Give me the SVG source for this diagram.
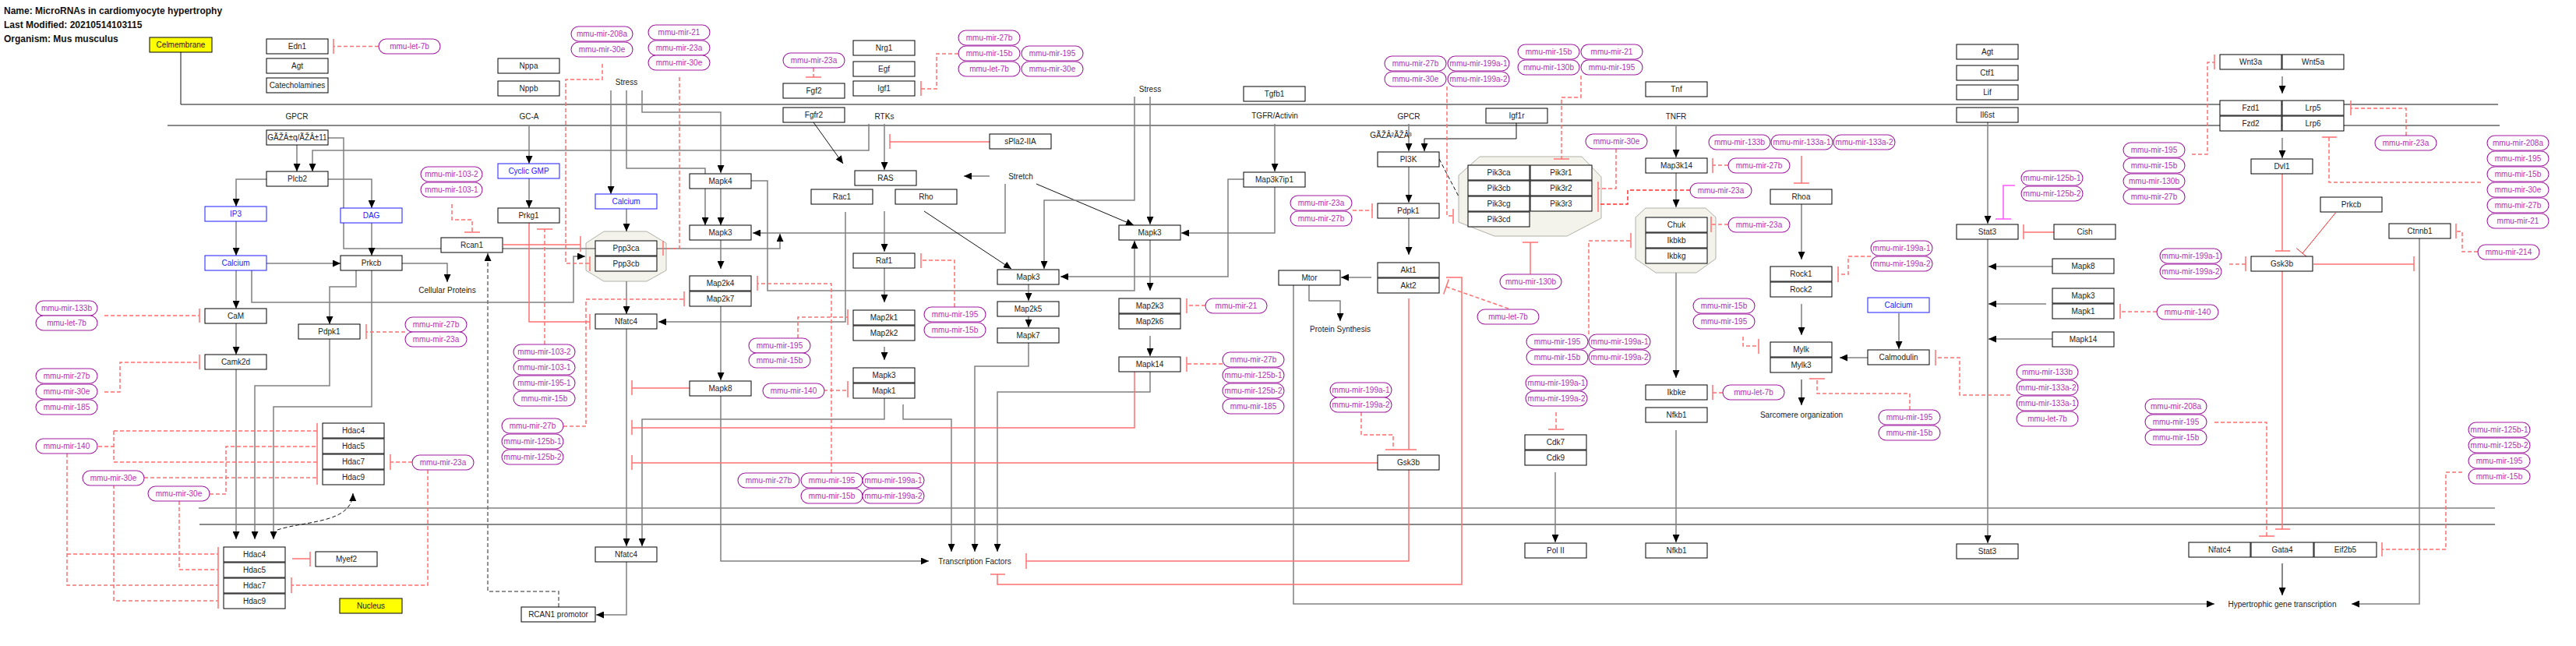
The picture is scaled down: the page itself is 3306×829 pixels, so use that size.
<svg xmlns="http://www.w3.org/2000/svg" width="3306" height="829" viewBox="0 0 3306 829">
<defs>
<style>
text{font-family:"Liberation Sans",Arial,sans-serif;font-size:10px;fill:#222;text-anchor:middle}
.h{text-anchor:start;font-weight:bold;font-size:12px;fill:#111}
.b rect{fill:#fff;stroke:#000;stroke-width:1}
.bl rect{fill:#fff;stroke:#1a1aff;stroke-width:1}
.bl text{fill:#2020ff}
.y rect{fill:#ffff00;stroke:#000;stroke-width:1}
.m rect{fill:#fff;stroke:#a01ca0;stroke-width:1.1}
.m text{fill:#b030b4}
.c{fill:none;stroke:#808080;stroke-width:1.5}
.cd{fill:none;stroke:#707070;stroke-width:1.5;stroke-dasharray:5 3}
.k{fill:none;stroke:#111;stroke-width:1}
.kd{fill:none;stroke:#111;stroke-width:1;stroke-dasharray:5 3}
.i{fill:none;stroke:#ff7070;stroke-width:1.5}
.d{fill:none;stroke:#ff7070;stroke-width:1.5;stroke-dasharray:5 3}
.bar{fill:none;stroke:#ff7070;stroke-width:1.5}
.oct{fill:#f3f3ec;stroke:#b0b0a8;stroke-width:1}
</style>
<marker id="ar" viewBox="0 0 10 9" markerWidth="10" markerHeight="9" refX="10" refY="4.5" orient="auto" markerUnits="userSpaceOnUse"><path d="M0,0L10,4.5L0,9z" fill="#000"/></marker>
</defs>
<rect width="3306" height="829" fill="#fff"/>
<text class="h" x="5" y="18">Name: MicroRNAs in cardiomyocyte hypertrophy</text>
<text class="h" x="5" y="36">Last Modified: 20210514103115</text>
<text class="h" x="5" y="54">Organism: Mus musculus</text>

<g id="cplx-ppp3"><polygon class="oct" points="775,297 830,297 855,312 855,347 830,361 775,361 752,347 752,312"/></g>
<g id="cplx-pik"><polygon class="oct" points="1899,201 2030,201 2055,227 2055,280 2011,303 1918,303 1872,285 1872,225"/></g>
<g id="cplx-ikk"><polygon class="oct" points="2112,267 2189,267 2202,279 2202,332 2177,350 2125,350 2099,332 2099,279"/></g>

<g id="connectors">
<path class="k" d="M232 67V134H3206"/>
<path class="k" d="M215 161H3208"/>
<path class="c" d="M255 652H3202"/>
<path class="k" d="M256 673H3202"/>
<path class="c" marker-end="url(#ar)" d="M381 186V220"/>
<path class="c" marker-end="url(#ar)" d="M1115 159V193H401V220"/>
<path class="c" marker-end="url(#ar)" d="M421 177H441V319H1001V300"/>
<path class="c" marker-end="url(#ar)" d="M342 230H303V265"/>
<path class="c" marker-end="url(#ar)" d="M421 230H477V267"/>
<path class="c" marker-end="url(#ar)" d="M303 284V328"/>
<path class="c" marker-end="url(#ar)" d="M477 286V328"/>
<path class="c" marker-end="url(#ar)" d="M342 338H437"/>
<path class="c" marker-end="url(#ar)" d="M516 338H574V362"/>
<path class="c" marker-end="url(#ar)" d="M323 347V388H736V329H751"/>
<path class="c" marker-end="url(#ar)" d="M303 347V396"/>
<path class="c" marker-end="url(#ar)" d="M457 347V368H423V416"/>
<path class="c" marker-end="url(#ar)" d="M477 347V522H351V692"/>
<path class="c" marker-end="url(#ar)" d="M423 435V495H327V692"/>
<path class="c" marker-end="url(#ar)" d="M303 414V455"/>
<path class="c" marker-end="url(#ar)" d="M303 474V692"/>
<path class="kd" marker-end="url(#ar)" d="M356 680C392 668 452 672 453 633"/>
<path class="c" marker-end="url(#ar)" d="M679 161V210"/>
<path class="c" marker-end="url(#ar)" d="M679 229V267"/>
<path class="c" marker-end="url(#ar)" d="M784 116V249"/>
<path class="c" marker-end="url(#ar)" d="M804 116V216H905V289"/>
<path class="c" marker-end="url(#ar)" d="M824 116V144H925V222"/>
<path class="c" marker-end="url(#ar)" d="M925 242V289"/>
<path class="c" marker-end="url(#ar)" d="M804 268V297"/>
<path class="c" marker-end="url(#ar)" d="M804 361V403"/>
<path class="c" marker-end="url(#ar)" d="M964 232H985V373H1456V309"/>
<path class="c" marker-end="url(#ar)" d="M925 308V345"/>
<path class="c" marker-end="url(#ar)" d="M925 393V488"/>
<path class="c" marker-end="url(#ar)" d="M925 507V720H1192"/>
<path class="c" marker-end="url(#ar)" d="M804 422V701"/>
<path class="c" marker-end="url(#ar)" d="M1135 510V538H824V701"/>
<path class="c" marker-end="url(#ar)" d="M804 721V789H765"/>
<path class="cd" marker-end="url(#ar)" d="M717 779V759H626V325"/>
<path class="c" marker-end="url(#ar)" d="M1290 236V299H966"/>
<path class="c" marker-end="url(#ar)" d="M1085 272V413H845"/>
<path class="k" marker-end="url(#ar)" d="M1044 157L1082 210"/>
<path class="c" marker-end="url(#ar)" d="M1135 159V218"/>
<path class="c" marker-end="url(#ar)" d="M1270 226H1237"/>
<path class="k" marker-end="url(#ar)" d="M1330 236L1455 289"/>
<path class="k" marker-end="url(#ar)" d="M1186 271L1298 345"/>
<path class="c" marker-end="url(#ar)" d="M1135 271V323"/>
<path class="c" marker-end="url(#ar)" d="M1135 344V388"/>
<path class="c" marker-end="url(#ar)" d="M1476 124V288"/>
<path class="c" marker-end="url(#ar)" d="M1456 124V257H1340V345"/>
<path class="c" marker-end="url(#ar)" d="M1636 159V220"/>
<path class="c" marker-end="url(#ar)" d="M1596 230H1576V355H1361"/>
<path class="c" marker-end="url(#ar)" d="M1636 240V299H1516"/>
<path class="c" marker-end="url(#ar)" d="M1476 308V373"/>
<path class="c" marker-end="url(#ar)" d="M1476 431V457"/>
<path class="c" marker-end="url(#ar)" d="M1320 364V386"/>
<path class="c" marker-end="url(#ar)" d="M1320 406V420"/>
<path class="c" marker-end="url(#ar)" d="M1135 445V462"/>
<path class="c" marker-end="url(#ar)" d="M1159 519V538H1221V708"/>
<path class="c" marker-end="url(#ar)" d="M1320 440V470H1251V708"/>
<path class="c" marker-end="url(#ar)" d="M1476 477V503H1280V708"/>
<path class="c" marker-end="url(#ar)" d="M1660 365V775H2842"/>
<path class="c" marker-end="url(#ar)" d="M1760 356H1721"/>
<path class="c" marker-end="url(#ar)" d="M1680 365V386H1720V412"/>
<path class="c" marker-end="url(#ar)" d="M1808 159V194"/>
<path class="k" marker-end="url(#ar)" d="M1946 158V178H1828V194"/>
<path class="c" marker-end="url(#ar)" d="M1808 214V260"/>
<path class="c" marker-end="url(#ar)" d="M1808 280V327"/>
<path class="kd" d="M1847 204L1872 252"/>
<path class="c" marker-end="url(#ar)" d="M2151 161V202"/>
<path class="c" marker-end="url(#ar)" d="M2151 222V266"/>
<path class="c" marker-end="url(#ar)" d="M2151 350V485"/>
<path class="c" marker-end="url(#ar)" d="M2151 552V696"/>
<path class="c" marker-end="url(#ar)" d="M1996 606V696"/>
<path class="c" marker-end="url(#ar)" d="M2551 157V287"/>
<path class="c" marker-end="url(#ar)" d="M2551 307V697"/>
<path class="c" marker-end="url(#ar)" d="M2634 342H2552"/>
<path class="c" marker-end="url(#ar)" d="M2626 390H2552"/>
<path class="c" marker-end="url(#ar)" d="M2634 435H2552"/>
<path class="c" marker-end="url(#ar)" d="M2312 262V333"/>
<path class="c" marker-end="url(#ar)" d="M2312 390V430"/>
<path class="c" marker-end="url(#ar)" d="M2437 402V448"/>
<path class="c" marker-end="url(#ar)" d="M2397 459H2361"/>
<path class="k" marker-end="url(#ar)" d="M2312 487V520"/>
<path class="c" marker-end="url(#ar)" d="M2929 98V120"/>
<path class="c" marker-end="url(#ar)" d="M2929 177V203"/>
<path class="c" marker-end="url(#ar)" d="M3105 306V775H3018"/>
<path class="k" marker-end="url(#ar)" d="M2929 723V764"/>

<path class="i" d="M646 314H745"/><path class="bar" d="M745 303V323"/>
<path class="i" d="M679 286V413H757"/><path class="bar" d="M757 403V423"/>
<path class="i" d="M885 498H811"/><path class="bar" d="M811 488V507"/>
<path class="i" d="M1456 477V549H811"/><path class="bar" d="M811 539V558"/>
<path class="i" d="M1768 594H811"/><path class="bar" d="M811 584V603"/>
<path class="i" d="M1270 182H1142"/><path class="bar" d="M1142 172V191"/>
<path class="i" d="M1808 603V720H1317"/><path class="bar" d="M1317 710V730"/>
<path class="i" d="M1856 356H1876V750H1280V737"/><path class="bar" d="M1271 737H1290"/>
<path class="i" d="M1808 383V577"/><path class="bar" d="M1798 577H1818"/>
<path class="i" d="M1964 352V311"/><path class="bar" d="M1954 311H1974"/>
<path class="i" d="M375 717H398"/><path class="bar" d="M398 708V727"/>
<path class="i" d="M2312 200V235"/><path class="bar" d="M2302 235H2322"/>
<path class="i" d="M2636 298H2597"/><path class="bar" d="M2597 288V307"/>
<path class="i" style="stroke:#ff55ff" d="M2586 238H2571V281"/><path class="bar" style="stroke:#ff55ff" d="M2561 281H2581"/>
<path class="i" d="M2929 223V322"/><path class="bar" d="M2920 322H2939"/>
<path class="i" style="stroke:#ff2020;stroke-width:1" d="M2997.5 273L2955 325"/><path class="bar" style="stroke:#ff2020;stroke-width:1" d="M2947.3 318.7L2962.7 331.3"/>
<path class="i" d="M2969 339H3098"/><path class="bar" d="M3098 329V348"/>
<path class="i" d="M2929 348V679"/><path class="bar" d="M2920 679H2939"/>

<path class="d" d="M486 59.5H428"/><path class="bar" d="M428 50V69"/>
<path class="d" d="M134 405H256"/><path class="bar" d="M256 396V414"/>
<path class="d" d="M134 503H154V465H256"/><path class="bar" d="M256 455V474"/>
<path class="d" d="M520 426H470"/><path class="bar" d="M470 416V435"/>
<path class="d" d="M126 573H146M146 553V593M146 553H407M146 593H407"/><path class="bar" d="M407 543V622"/>
<path class="d" d="M86 582V751H280M86 711H280"/><path class="bar" d="M280 702V781"/>
<path class="d" d="M185 613H407M146 622V771H280"/>
<path class="d" d="M269 634H290V573H407M230 643V731H280"/>
<path class="d" d="M529 593H501"/><path class="bar" d="M501 583V603"/>
<path class="d" d="M549 603V751H374"/><path class="bar" d="M374 741V761"/>
<path class="d" d="M773 82V102H726V338H757"/><path class="bar" d="M757 329V348"/>
<path class="d" d="M872 99V319H851"/><path class="bar" d="M851 309V328"/>
<path class="d" d="M580 262V282H606V298"/><path class="bar" d="M596 298H616"/>
<path class="d" d="M699 442V294"/><path class="bar" d="M689 294H709"/>
<path class="d" d="M723 547H752V384H878"/><path class="bar" d="M878 374V393"/>
<path class="d" d="M1024 434V407H1088"/><path class="bar" d="M1088 397V417"/>
<path class="d" d="M1057 501H1088"/><path class="bar" d="M1088 489V510"/>
<path class="d" d="M1067 607V364H972"/><path class="bar" d="M972 354V373"/>
<path class="d" d="M1044 87V99"/><path class="bar" d="M1034 99H1054"/>
<path class="d" d="M1230 69H1202V114H1182"/><path class="bar" d="M1182 104V123"/>
<path class="d" d="M1225 394V334H1182"/><path class="bar" d="M1182 325V344"/>
<path class="d" d="M1547 392H1523"/><path class="bar" d="M1523 383V402"/>
<path class="d" d="M1569 467H1523"/><path class="bar" d="M1523 458V477"/>
<path class="d" d="M1736 270H1761"/><path class="bar" d="M1761 261V280"/>
<path class="d" d="M1857 111V277H1865"/><path class="bar" d="M1865 268V287"/>
<path class="d" d="M2029 97V125H2004V204"/><path class="bar" d="M1994 204H2014"/>
<path class="d" d="M2074 191V242H2051"/><path class="bar" d="M2051 233V272"/>
<path class="d" style="stroke:#ff3030" d="M2169 244H2089V262H2051"/>
<path class="d" d="M1936 396L1856 368"/><path class="bar" d="M1859.3 358.6L1852.7 377.4"/>
<path class="d" d="M1747 529V558H1788V577"/><path class="bar" d="M1778 577H1798"/>
<path class="d" d="M2218 212H2198"/><path class="bar" d="M2198 203V222"/>
<path class="d" d="M2218 288H2196"/><path class="bar" d="M2196 278V298"/>
<path class="d" d="M2039 429V309H2093"/><path class="bar" d="M2093 299V318"/>
<path class="d" d="M1997 529V551"/><path class="bar" d="M1987 551H2007"/>
<path class="d" d="M2211 504H2198"/><path class="bar" d="M2198 494V513"/>
<path class="d" d="M2237 432V444H2257"/><path class="bar" d="M2257 435V454"/>
<path class="d" d="M2401 329H2372V352H2359"/><path class="bar" d="M2359 342V362"/>
<path class="d" d="M2451 526V505H2332V486"/><path class="bar" d="M2322 486H2342"/>
<path class="d" d="M2580 507H2515V459H2484"/><path class="bar" d="M2484 449V469"/>
<path class="d" d="M2768 400H2721"/><path class="bar" d="M2721 390V409"/>
<path class="d" d="M2813 198H2833V80H2842"/><path class="bar" d="M2842 70V89"/>
<path class="d" d="M3088 174V139H3017"/><path class="bar" d="M3017 129V148"/>
<path class="d" d="M3184 234H2989V176"/><path class="bar" d="M2980 176H2999"/>
<path class="d" d="M3180 323H3160V297H3152"/><path class="bar" d="M3152 287V306"/>
<path class="d" d="M2861 339H2882"/><path class="bar" d="M2882 329V348"/>
<path class="d" d="M2842 542H2909V688"/><path class="bar" d="M2899 688H2919"/>
<path class="d" d="M3160 606H3139V705H3057"/><path class="bar" d="M3057 696V714"/>
</g>

<g id="labels">
<text x="381" y="152.5">GPCR</text>
<text x="679" y="152.5">GC-A</text>
<text x="1135" y="152.5">RTKs</text>
<text x="1636" y="151.5">TGFR/Activin</text>
<text x="1808" y="152.5">GPCR</text>
<text x="2151" y="152.5">TNFR</text>
<text x="804" y="108.5">Stress</text>
<text x="1476" y="117.5">Stress</text>
<text x="1310" y="229.5">Stretch</text>
<text x="574" y="375.5">Cellular Proteins</text>
<text x="1720" y="425.5">Protein Synthesis</text>
<text x="1251" y="723.5">Transcription Factors</text>
<text x="2312" y="535.5">Sarcomere organization</text>
<text x="2929" y="778.5">Hypertrophic gene transcription</text>
<text x="1785" y="176.5">GÃŽÂ²ÃŽÂ³</text>
</g>

<g id="n-celm" class="y"><rect x="192" y="48" width="80" height="19"/><text x="232" y="61">Celmembrane</text></g>
<g id="n-nucleus" class="y"><rect x="436" y="768" width="80" height="19"/><text x="476" y="781">Nucleus</text></g>
<g id="n-edn1" class="b"><rect x="342" y="50" width="79" height="19"/><text x="381.5" y="63">Edn1</text></g>
<g id="n-agt1" class="b"><rect x="342" y="75" width="79" height="19"/><text x="381.5" y="88">Agt</text></g>
<g id="n-catech" class="b"><rect x="342" y="100" width="79" height="19"/><text x="381.5" y="113">Catecholamines</text></g>
<g id="n-gaq" class="b"><rect x="342" y="167" width="79" height="19"/><text x="381.5" y="180">GÃŽÂ±q/ÃŽÂ±11</text></g>
<g id="n-plcb2" class="b"><rect x="342" y="220" width="79" height="19"/><text x="381.5" y="233">Plcb2</text></g>
<g id="n-ip3" class="bl"><rect x="263" y="265" width="79" height="19"/><text x="302.5" y="278">IP3</text></g>
<g id="n-dag" class="bl"><rect x="437" y="267" width="79" height="19"/><text x="476.5" y="280">DAG</text></g>
<g id="n-calcium1" class="bl"><rect x="263" y="328" width="79" height="19"/><text x="302.5" y="341">Calcium</text></g>
<g id="n-prkcb1" class="b"><rect x="437" y="328" width="79" height="19"/><text x="476.5" y="341">Prkcb</text></g>
<g id="n-cam" class="b"><rect x="263" y="396" width="79" height="19"/><text x="302.5" y="409">CaM</text></g>
<g id="n-pdpk1a" class="b"><rect x="383" y="416" width="79" height="19"/><text x="422.5" y="429">Pdpk1</text></g>
<g id="n-camk2d" class="b"><rect x="263" y="455" width="79" height="19"/><text x="302.5" y="468">Camk2d</text></g>
<g id="n-hdac4a" class="b"><rect x="414" y="543" width="79" height="19"/><text x="453.5" y="556">Hdac4</text></g>
<g id="n-hdac5a" class="b"><rect x="414" y="563" width="79" height="19"/><text x="453.5" y="576">Hdac5</text></g>
<g id="n-hdac7a" class="b"><rect x="414" y="583" width="79" height="19"/><text x="453.5" y="596">Hdac7</text></g>
<g id="n-hdac9a" class="b"><rect x="414" y="603" width="79" height="19"/><text x="453.5" y="616">Hdac9</text></g>
<g id="n-hdac4b" class="b"><rect x="287" y="702" width="79" height="19"/><text x="326.5" y="715">Hdac4</text></g>
<g id="n-hdac5b" class="b"><rect x="287" y="722" width="79" height="19"/><text x="326.5" y="735">Hdac5</text></g>
<g id="n-hdac7b" class="b"><rect x="287" y="742" width="79" height="19"/><text x="326.5" y="755">Hdac7</text></g>
<g id="n-hdac9b" class="b"><rect x="287" y="762" width="79" height="19"/><text x="326.5" y="775">Hdac9</text></g>
<g id="n-myef2" class="b"><rect x="405" y="708" width="79" height="19"/><text x="444.5" y="721">Myef2</text></g>
<g id="n-nppa" class="b"><rect x="639" y="75" width="79" height="19"/><text x="678.5" y="88">Nppa</text></g>
<g id="n-nppb" class="b"><rect x="639" y="104" width="79" height="19"/><text x="678.5" y="117">Nppb</text></g>
<g id="n-cgmp" class="bl"><rect x="639" y="210" width="79" height="19"/><text x="678.5" y="223">Cyclic GMP</text></g>
<g id="n-prkg1" class="b"><rect x="639" y="267" width="79" height="19"/><text x="678.5" y="280">Prkg1</text></g>
<g id="n-rcan1" class="b"><rect x="566" y="305" width="79" height="19"/><text x="605.5" y="318">Rcan1</text></g>
<g id="n-calcium2" class="bl"><rect x="764" y="249" width="79" height="19"/><text x="803.5" y="262">Calcium</text></g>
<g id="n-ppp3ca" class="b"><rect x="764" y="309" width="79" height="19"/><text x="803.5" y="322">Ppp3ca</text></g>
<g id="n-ppp3cb" class="b"><rect x="764" y="329" width="79" height="19"/><text x="803.5" y="342">Ppp3cb</text></g>
<g id="n-nfatc4a" class="b"><rect x="764" y="403" width="79" height="19"/><text x="803.5" y="416">Nfatc4</text></g>
<g id="n-nfatc4b" class="b"><rect x="764" y="702" width="79" height="19"/><text x="803.5" y="715">Nfatc4</text></g>
<g id="n-rcan1p" class="b"><rect x="669" y="779" width="95" height="19"/><text x="716.5" y="792">RCAN1 promotor</text></g>
<g id="n-mapk4" class="b"><rect x="885" y="223" width="79" height="19"/><text x="924.5" y="236">Mapk4</text></g>
<g id="n-mapk3a" class="b"><rect x="885" y="289" width="79" height="19"/><text x="924.5" y="302">Mapk3</text></g>
<g id="n-map2k4" class="b"><rect x="885" y="354" width="79" height="19"/><text x="924.5" y="367">Map2k4</text></g>
<g id="n-map2k7" class="b"><rect x="885" y="374" width="79" height="19"/><text x="924.5" y="387">Map2k7</text></g>
<g id="n-mapk8a" class="b"><rect x="885" y="489" width="79" height="19"/><text x="924.5" y="502">Mapk8</text></g>
<g id="n-fgf2" class="b"><rect x="1005" y="107" width="79" height="19"/><text x="1044.5" y="120">Fgf2</text></g>
<g id="n-fgfr2" class="b"><rect x="1005" y="138" width="79" height="19"/><text x="1044.5" y="151">Fgfr2</text></g>
<g id="n-nrg1" class="b"><rect x="1095" y="52" width="79" height="19"/><text x="1134.5" y="65">Nrg1</text></g>
<g id="n-egf" class="b"><rect x="1095" y="79" width="79" height="19"/><text x="1134.5" y="92">Egf</text></g>
<g id="n-igf1" class="b"><rect x="1095" y="104" width="79" height="19"/><text x="1134.5" y="117">Igf1</text></g>
<g id="n-ras" class="b"><rect x="1097" y="219" width="79" height="19"/><text x="1136.5" y="232">RAS</text></g>
<g id="n-spla2" class="b"><rect x="1270" y="172" width="79" height="19"/><text x="1309.5" y="185">sPla2-IIA</text></g>
<g id="n-rac1" class="b"><rect x="1041" y="243" width="79" height="19"/><text x="1080.5" y="256">Rac1</text></g>
<g id="n-rho" class="b"><rect x="1149" y="243" width="79" height="19"/><text x="1188.5" y="256">Rho</text></g>
<g id="n-raf1" class="b"><rect x="1095" y="325" width="79" height="19"/><text x="1134.5" y="338">Raf1</text></g>
<g id="n-map2k1" class="b"><rect x="1095" y="398" width="79" height="19"/><text x="1134.5" y="411">Map2k1</text></g>
<g id="n-map2k2" class="b"><rect x="1095" y="418" width="79" height="19"/><text x="1134.5" y="431">Map2k2</text></g>
<g id="n-mapk3b" class="b"><rect x="1095" y="472" width="79" height="19"/><text x="1134.5" y="485">Mapk3</text></g>
<g id="n-mapk1a" class="b"><rect x="1095" y="492" width="79" height="19"/><text x="1134.5" y="505">Mapk1</text></g>
<g id="n-mapk3d" class="b"><rect x="1280" y="346" width="79" height="19"/><text x="1319.5" y="359">Mapk3</text></g>
<g id="n-map2k5" class="b"><rect x="1280" y="387" width="79" height="19"/><text x="1319.5" y="400">Map2k5</text></g>
<g id="n-mapk7" class="b"><rect x="1280" y="421" width="79" height="19"/><text x="1319.5" y="434">Mapk7</text></g>
<g id="n-mapk3c" class="b"><rect x="1436" y="289" width="79" height="19"/><text x="1475.5" y="302">Mapk3</text></g>
<g id="n-map2k3" class="b"><rect x="1436" y="383" width="79" height="19"/><text x="1475.5" y="396">Map2k3</text></g>
<g id="n-map2k6" class="b"><rect x="1436" y="403" width="79" height="19"/><text x="1475.5" y="416">Map2k6</text></g>
<g id="n-mapk14a" class="b"><rect x="1436" y="458" width="79" height="19"/><text x="1475.5" y="471">Mapk14</text></g>
<g id="n-tgfb1" class="b"><rect x="1596" y="111" width="79" height="19"/><text x="1635.5" y="124">Tgfb1</text></g>
<g id="n-map3k7ip1" class="b"><rect x="1596" y="221" width="79" height="19"/><text x="1635.5" y="234">Map3k7ip1</text></g>
<g id="n-mtor" class="b"><rect x="1641" y="347" width="79" height="19"/><text x="1680.5" y="360">Mtor</text></g>
<g id="n-pi3k" class="b"><rect x="1768" y="195" width="79" height="19"/><text x="1807.5" y="208">PI3K</text></g>
<g id="n-pdpk1b" class="b"><rect x="1768" y="261" width="79" height="19"/><text x="1807.5" y="274">Pdpk1</text></g>
<g id="n-akt1" class="b"><rect x="1768" y="337" width="79" height="19"/><text x="1807.5" y="350">Akt1</text></g>
<g id="n-akt2" class="b"><rect x="1768" y="357" width="79" height="19"/><text x="1807.5" y="370">Akt2</text></g>
<g id="n-igf1r" class="b"><rect x="1907" y="139" width="79" height="19"/><text x="1946.5" y="152">Igf1r</text></g>
<g id="n-pik3ca" class="b"><rect x="1884" y="212" width="79" height="19"/><text x="1923.5" y="225">Pik3ca</text></g>
<g id="n-pik3r1" class="b"><rect x="1964" y="212" width="79" height="19"/><text x="2003.5" y="225">Pik3r1</text></g>
<g id="n-pik3cb" class="b"><rect x="1884" y="232" width="79" height="19"/><text x="1923.5" y="245">Pik3cb</text></g>
<g id="n-pik3r2" class="b"><rect x="1964" y="232" width="79" height="19"/><text x="2003.5" y="245">Pik3r2</text></g>
<g id="n-pik3cg" class="b"><rect x="1884" y="252" width="79" height="19"/><text x="1923.5" y="265">Pik3cg</text></g>
<g id="n-pik3r3" class="b"><rect x="1964" y="252" width="79" height="19"/><text x="2003.5" y="265">Pik3r3</text></g>
<g id="n-pik3cd" class="b"><rect x="1884" y="272" width="79" height="19"/><text x="1923.5" y="285">Pik3cd</text></g>
<g id="n-gsk3ba" class="b"><rect x="1768" y="584" width="79" height="19"/><text x="1807.5" y="597">Gsk3b</text></g>
<g id="n-tnf" class="b"><rect x="2112" y="105" width="79" height="19"/><text x="2151.5" y="118">Tnf</text></g>
<g id="n-map3k14" class="b"><rect x="2112" y="203" width="79" height="19"/><text x="2151.5" y="216">Map3k14</text></g>
<g id="n-chuk" class="b"><rect x="2112" y="279" width="79" height="19"/><text x="2151.5" y="292">Chuk</text></g>
<g id="n-ikbkb" class="b"><rect x="2112" y="299" width="79" height="19"/><text x="2151.5" y="312">Ikbkb</text></g>
<g id="n-ikbkg" class="b"><rect x="2112" y="319" width="79" height="19"/><text x="2151.5" y="332">Ikbkg</text></g>
<g id="n-cdk7" class="b"><rect x="1957" y="558" width="79" height="19"/><text x="1996.5" y="571">Cdk7</text></g>
<g id="n-cdk9" class="b"><rect x="1957" y="578" width="79" height="19"/><text x="1996.5" y="591">Cdk9</text></g>
<g id="n-pol2" class="b"><rect x="1957" y="697" width="79" height="19"/><text x="1996.5" y="710">Pol II</text></g>
<g id="n-ikbke" class="b"><rect x="2112" y="494" width="79" height="19"/><text x="2151.5" y="507">Ikbke</text></g>
<g id="n-nfkb1a" class="b"><rect x="2112" y="523" width="79" height="19"/><text x="2151.5" y="536">Nfkb1</text></g>
<g id="n-nfkb1b" class="b"><rect x="2112" y="697" width="79" height="19"/><text x="2151.5" y="710">Nfkb1</text></g>
<g id="n-rhoa" class="b"><rect x="2272" y="243" width="79" height="19"/><text x="2311.5" y="256">Rhoa</text></g>
<g id="n-rock1" class="b"><rect x="2272" y="342" width="79" height="19"/><text x="2311.5" y="355">Rock1</text></g>
<g id="n-rock2" class="b"><rect x="2272" y="362" width="79" height="19"/><text x="2311.5" y="375">Rock2</text></g>
<g id="n-calcium3" class="bl"><rect x="2397" y="382" width="79" height="19"/><text x="2436.5" y="395">Calcium</text></g>
<g id="n-calmodulin" class="b"><rect x="2397" y="449" width="79" height="19"/><text x="2436.5" y="462">Calmodulin</text></g>
<g id="n-mylk" class="b"><rect x="2272" y="439" width="79" height="19"/><text x="2311.5" y="452">Mylk</text></g>
<g id="n-mylk3" class="b"><rect x="2272" y="459" width="79" height="19"/><text x="2311.5" y="472">Mylk3</text></g>
<g id="n-agt2" class="b"><rect x="2511" y="57" width="79" height="19"/><text x="2550.5" y="70">Agt</text></g>
<g id="n-ctf1" class="b"><rect x="2511" y="84" width="79" height="19"/><text x="2550.5" y="97">Ctf1</text></g>
<g id="n-lif" class="b"><rect x="2511" y="109" width="79" height="19"/><text x="2550.5" y="122">Lif</text></g>
<g id="n-il6st" class="b"><rect x="2511" y="138" width="79" height="19"/><text x="2550.5" y="151">Il6st</text></g>
<g id="n-stat3a" class="b"><rect x="2511" y="288" width="79" height="19"/><text x="2550.5" y="301">Stat3</text></g>
<g id="n-cish" class="b"><rect x="2636" y="288" width="79" height="19"/><text x="2675.5" y="301">Cish</text></g>
<g id="n-mapk8b" class="b"><rect x="2634" y="332" width="79" height="19"/><text x="2673.5" y="345">Mapk8</text></g>
<g id="n-mapk3e" class="b"><rect x="2634" y="370" width="79" height="19"/><text x="2673.5" y="383">Mapk3</text></g>
<g id="n-mapk1b" class="b"><rect x="2634" y="390" width="79" height="19"/><text x="2673.5" y="403">Mapk1</text></g>
<g id="n-mapk14b" class="b"><rect x="2634" y="426" width="79" height="19"/><text x="2673.5" y="439">Mapk14</text></g>
<g id="n-stat3b" class="b"><rect x="2511" y="698" width="79" height="19"/><text x="2550.5" y="711">Stat3</text></g>
<g id="n-wnt3a" class="b"><rect x="2849" y="70" width="79" height="19"/><text x="2888.5" y="83">Wnt3a</text></g>
<g id="n-wnt5a" class="b"><rect x="2929" y="70" width="79" height="19"/><text x="2968.5" y="83">Wnt5a</text></g>
<g id="n-fzd1" class="b"><rect x="2849" y="129" width="79" height="19"/><text x="2888.5" y="142">Fzd1</text></g>
<g id="n-lrp5" class="b"><rect x="2929" y="129" width="79" height="19"/><text x="2968.5" y="142">Lrp5</text></g>
<g id="n-fzd2" class="b"><rect x="2849" y="149" width="79" height="19"/><text x="2888.5" y="162">Fzd2</text></g>
<g id="n-lrp6" class="b"><rect x="2929" y="149" width="79" height="19"/><text x="2968.5" y="162">Lrp6</text></g>
<g id="n-dvl1" class="b"><rect x="2889" y="204" width="79" height="19"/><text x="2928.5" y="217">Dvl1</text></g>
<g id="n-prkcb2" class="b"><rect x="2978" y="253" width="79" height="19"/><text x="3017.5" y="266">Prkcb</text></g>
<g id="n-ctnnb1" class="b"><rect x="3066" y="287" width="79" height="19"/><text x="3105.5" y="300">Ctnnb1</text></g>
<g id="n-gsk3bc" class="b"><rect x="2889" y="329" width="79" height="19"/><text x="2928.5" y="342">Gsk3b</text></g>
<g id="n-nfatc4c" class="b"><rect x="2809" y="696" width="79" height="19"/><text x="2848.5" y="709">Nfatc4</text></g>
<g id="n-gata4" class="b"><rect x="2889" y="696" width="80" height="19"/><text x="2929" y="709">Gata4</text></g>
<g id="n-eif2b5" class="b"><rect x="2970" y="696" width="80" height="19"/><text x="3010" y="709">Eif2b5</text></g>

<g id="m1" class="m"><rect x="486" y="50" width="79" height="19" rx="9.5"/><text x="525.5" y="63">mmu-let-7b</text></g>
<g id="m2" class="m"><rect x="46" y="386" width="79" height="19" rx="9.5"/><text x="85.5" y="399">mmu-mir-133b</text></g>
<g id="m3" class="m"><rect x="46" y="405" width="79" height="19" rx="9.5"/><text x="85.5" y="418">mmu-let-7b</text></g>
<g id="m4" class="m"><rect x="46" y="473" width="79" height="19" rx="9.5"/><text x="85.5" y="486">mmu-mir-27b</text></g>
<g id="m5" class="m"><rect x="46" y="493" width="79" height="19" rx="9.5"/><text x="85.5" y="506">mmu-mir-30e</text></g>
<g id="m6" class="m"><rect x="46" y="513" width="79" height="19" rx="9.5"/><text x="85.5" y="526">mmu-mir-185</text></g>
<g id="m7" class="m"><rect x="46" y="563" width="79" height="19" rx="9.5"/><text x="85.5" y="576">mmu-mir-140</text></g>
<g id="m8" class="m"><rect x="106" y="604" width="79" height="19" rx="9.5"/><text x="145.5" y="617">mmu-mir-30e</text></g>
<g id="m9" class="m"><rect x="190" y="624" width="79" height="19" rx="9.5"/><text x="229.5" y="637">mmu-mir-30e</text></g>
<g id="m10" class="m"><rect x="520" y="407" width="79" height="19" rx="9.5"/><text x="559.5" y="420">mmu-mir-27b</text></g>
<g id="m11" class="m"><rect x="520" y="426" width="79" height="19" rx="9.5"/><text x="559.5" y="439">mmu-mir-23a</text></g>
<g id="m12" class="m"><rect x="529" y="584" width="79" height="19" rx="9.5"/><text x="568.5" y="597">mmu-mir-23a</text></g>
<g id="m13" class="m"><rect x="733" y="34" width="79" height="19" rx="9.5"/><text x="772.5" y="47">mmu-mir-208a</text></g>
<g id="m14" class="m"><rect x="733" y="54" width="79" height="19" rx="9.5"/><text x="772.5" y="67">mmu-mir-30e</text></g>
<g id="m15" class="m"><rect x="832" y="32" width="79" height="19" rx="9.5"/><text x="871.5" y="45">mmu-mir-21</text></g>
<g id="m16" class="m"><rect x="832" y="52" width="79" height="19" rx="9.5"/><text x="871.5" y="65">mmu-mir-23a</text></g>
<g id="m17" class="m"><rect x="832" y="71" width="79" height="19" rx="9.5"/><text x="871.5" y="84">mmu-mir-30e</text></g>
<g id="m18" class="m"><rect x="540" y="214" width="79" height="19" rx="9.5"/><text x="579.5" y="227">mmu-mir-103-2</text></g>
<g id="m19" class="m"><rect x="540" y="234" width="79" height="19" rx="9.5"/><text x="579.5" y="247">mmu-mir-103-1</text></g>
<g id="m20" class="m"><rect x="659" y="442" width="79" height="19" rx="9.5"/><text x="698.5" y="455">mmu-mir-103-2</text></g>
<g id="m21" class="m"><rect x="659" y="462" width="79" height="19" rx="9.5"/><text x="698.5" y="475">mmu-mir-103-1</text></g>
<g id="m22" class="m"><rect x="659" y="482" width="79" height="19" rx="9.5"/><text x="698.5" y="495">mmu-mir-195-1</text></g>
<g id="m23" class="m"><rect x="659" y="502" width="79" height="19" rx="9.5"/><text x="698.5" y="515">mmu-mir-15b</text></g>
<g id="m24" class="m"><rect x="644" y="537" width="79" height="19" rx="9.5"/><text x="683.5" y="550">mmu-mir-27b</text></g>
<g id="m25" class="m"><rect x="644" y="557" width="79" height="19" rx="9.5"/><text x="683.5" y="570">mmu-mir-125b-1</text></g>
<g id="m26" class="m"><rect x="644" y="577" width="79" height="19" rx="9.5"/><text x="683.5" y="590">mmu-mir-125b-2</text></g>
<g id="m27" class="m"><rect x="961" y="434" width="79" height="19" rx="9.5"/><text x="1000.5" y="447">mmu-mir-195</text></g>
<g id="m28" class="m"><rect x="961" y="453" width="79" height="19" rx="9.5"/><text x="1000.5" y="466">mmu-mir-15b</text></g>
<g id="m29" class="m"><rect x="979" y="492" width="79" height="19" rx="9.5"/><text x="1018.5" y="505">mmu-mir-140</text></g>
<g id="m30" class="m"><rect x="947" y="607" width="79" height="19" rx="9.5"/><text x="986.5" y="620">mmu-mir-27b</text></g>
<g id="m31" class="m"><rect x="1028" y="607" width="79" height="19" rx="9.5"/><text x="1067.5" y="620">mmu-mir-195</text></g>
<g id="m32" class="m"><rect x="1028" y="627" width="79" height="19" rx="9.5"/><text x="1067.5" y="640">mmu-mir-15b</text></g>
<g id="m33" class="m"><rect x="1107" y="607" width="79" height="19" rx="9.5"/><text x="1146.5" y="620">mmu-mir-199a-1</text></g>
<g id="m34" class="m"><rect x="1107" y="627" width="79" height="19" rx="9.5"/><text x="1146.5" y="640">mmu-mir-199a-2</text></g>
<g id="m35" class="m"><rect x="1005" y="68" width="79" height="19" rx="9.5"/><text x="1044.5" y="81">mmu-mir-23a</text></g>
<g id="m36" class="m"><rect x="1230" y="39" width="79" height="19" rx="9.5"/><text x="1269.5" y="52">mmu-mir-27b</text></g>
<g id="m37" class="m"><rect x="1230" y="59" width="79" height="19" rx="9.5"/><text x="1269.5" y="72">mmu-mir-15b</text></g>
<g id="m38" class="m"><rect x="1230" y="79" width="79" height="19" rx="9.5"/><text x="1269.5" y="92">mmu-let-7b</text></g>
<g id="m39" class="m"><rect x="1311" y="59" width="79" height="19" rx="9.5"/><text x="1350.5" y="72">mmu-mir-195</text></g>
<g id="m40" class="m"><rect x="1311" y="79" width="79" height="19" rx="9.5"/><text x="1350.5" y="92">mmu-mir-30e</text></g>
<g id="m41" class="m"><rect x="1186" y="394" width="79" height="19" rx="9.5"/><text x="1225.5" y="407">mmu-mir-195</text></g>
<g id="m42" class="m"><rect x="1186" y="414" width="79" height="19" rx="9.5"/><text x="1225.5" y="427">mmu-mir-15b</text></g>
<g id="m43" class="m"><rect x="1547" y="383" width="79" height="19" rx="9.5"/><text x="1586.5" y="396">mmu-mir-21</text></g>
<g id="m44" class="m"><rect x="1569" y="452" width="79" height="19" rx="9.5"/><text x="1608.5" y="465">mmu-mir-27b</text></g>
<g id="m45" class="m"><rect x="1569" y="472" width="79" height="19" rx="9.5"/><text x="1608.5" y="485">mmu-mir-125b-1</text></g>
<g id="m46" class="m"><rect x="1569" y="492" width="79" height="19" rx="9.5"/><text x="1608.5" y="505">mmu-mir-125b-2</text></g>
<g id="m47" class="m"><rect x="1569" y="512" width="79" height="19" rx="9.5"/><text x="1608.5" y="525">mmu-mir-185</text></g>
<g id="m48" class="m"><rect x="1656" y="251" width="79" height="19" rx="9.5"/><text x="1695.5" y="264">mmu-mir-23a</text></g>
<g id="m49" class="m"><rect x="1656" y="271" width="79" height="19" rx="9.5"/><text x="1695.5" y="284">mmu-mir-27b</text></g>
<g id="m50" class="m"><rect x="1777" y="72" width="79" height="19" rx="9.5"/><text x="1816.5" y="85">mmu-mir-27b</text></g>
<g id="m51" class="m"><rect x="1777" y="92" width="79" height="19" rx="9.5"/><text x="1816.5" y="105">mmu-mir-30e</text></g>
<g id="m52" class="m"><rect x="1858" y="72" width="79" height="19" rx="9.5"/><text x="1897.5" y="85">mmu-mir-199a-1</text></g>
<g id="m53" class="m"><rect x="1858" y="92" width="79" height="19" rx="9.5"/><text x="1897.5" y="105">mmu-mir-199a-2</text></g>
<g id="m54" class="m"><rect x="1948" y="57" width="79" height="19" rx="9.5"/><text x="1987.5" y="70">mmu-mir-15b</text></g>
<g id="m55" class="m"><rect x="2029" y="57" width="79" height="19" rx="9.5"/><text x="2068.5" y="70">mmu-mir-21</text></g>
<g id="m56" class="m"><rect x="1948" y="77" width="79" height="19" rx="9.5"/><text x="1987.5" y="90">mmu-mir-130b</text></g>
<g id="m57" class="m"><rect x="2029" y="77" width="79" height="19" rx="9.5"/><text x="2068.5" y="90">mmu-mir-195</text></g>
<g id="m58" class="m"><rect x="1925" y="352" width="79" height="19" rx="9.5"/><text x="1964.5" y="365">mmu-mir-130b</text></g>
<g id="m59" class="m"><rect x="1896" y="397" width="79" height="19" rx="9.5"/><text x="1935.5" y="410">mmu-let-7b</text></g>
<g id="m60" class="m"><rect x="1707" y="491" width="79" height="19" rx="9.5"/><text x="1746.5" y="504">mmu-mir-199a-1</text></g>
<g id="m61" class="m"><rect x="1707" y="510" width="79" height="19" rx="9.5"/><text x="1746.5" y="523">mmu-mir-199a-2</text></g>
<g id="m62" class="m"><rect x="2035" y="172" width="79" height="19" rx="9.5"/><text x="2074.5" y="185">mmu-mir-30e</text></g>
<g id="m63" class="m"><rect x="1959" y="429" width="79" height="19" rx="9.5"/><text x="1998.5" y="442">mmu-mir-195</text></g>
<g id="m64" class="m"><rect x="1959" y="449" width="79" height="19" rx="9.5"/><text x="1998.5" y="462">mmu-mir-15b</text></g>
<g id="m65" class="m"><rect x="2039" y="429" width="79" height="19" rx="9.5"/><text x="2078.5" y="442">mmu-mir-199a-1</text></g>
<g id="m66" class="m"><rect x="2039" y="449" width="79" height="19" rx="9.5"/><text x="2078.5" y="462">mmu-mir-199a-2</text></g>
<g id="m67" class="m"><rect x="1958" y="482" width="79" height="19" rx="9.5"/><text x="1997.5" y="495">mmu-mir-199a-1</text></g>
<g id="m68" class="m"><rect x="1958" y="502" width="79" height="19" rx="9.5"/><text x="1997.5" y="515">mmu-mir-199a-2</text></g>
<g id="m69" class="m"><rect x="2193" y="173" width="79" height="19" rx="9.5"/><text x="2232.5" y="186">mmu-mir-133b</text></g>
<g id="m70" class="m"><rect x="2273" y="173" width="79" height="19" rx="9.5"/><text x="2312.5" y="186">mmu-mir-133a-1</text></g>
<g id="m71" class="m"><rect x="2353" y="173" width="79" height="19" rx="9.5"/><text x="2392.5" y="186">mmu-mir-133a-2</text></g>
<g id="m72" class="m"><rect x="2218" y="203" width="79" height="19" rx="9.5"/><text x="2257.5" y="216">mmu-mir-27b</text></g>
<g id="m73" class="m"><rect x="2169" y="235" width="79" height="19" rx="9.5"/><text x="2208.5" y="248">mmu-mir-23a</text></g>
<g id="m74" class="m"><rect x="2218" y="279" width="79" height="19" rx="9.5"/><text x="2257.5" y="292">mmu-mir-23a</text></g>
<g id="m75" class="m"><rect x="2173" y="383" width="79" height="19" rx="9.5"/><text x="2212.5" y="396">mmu-mir-15b</text></g>
<g id="m76" class="m"><rect x="2173" y="403" width="79" height="19" rx="9.5"/><text x="2212.5" y="416">mmu-mir-195</text></g>
<g id="m77" class="m"><rect x="2211" y="494" width="79" height="19" rx="9.5"/><text x="2250.5" y="507">mmu-let-7b</text></g>
<g id="m78" class="m"><rect x="2401" y="309" width="79" height="19" rx="9.5"/><text x="2440.5" y="322">mmu-mir-199a-1</text></g>
<g id="m79" class="m"><rect x="2401" y="329" width="79" height="19" rx="9.5"/><text x="2440.5" y="342">mmu-mir-199a-2</text></g>
<g id="m80" class="m"><rect x="2411" y="526" width="79" height="19" rx="9.5"/><text x="2450.5" y="539">mmu-mir-195</text></g>
<g id="m81" class="m"><rect x="2411" y="546" width="79" height="19" rx="9.5"/><text x="2450.5" y="559">mmu-mir-15b</text></g>
<g id="m82" class="m"><rect x="2594" y="219" width="79" height="19" rx="9.5"/><text x="2633.5" y="232">mmu-mir-125b-1</text></g>
<g id="m83" class="m"><rect x="2594" y="239" width="79" height="19" rx="9.5"/><text x="2633.5" y="252">mmu-mir-125b-2</text></g>
<g id="m84" class="m"><rect x="2588" y="468" width="79" height="19" rx="9.5"/><text x="2627.5" y="481">mmu-mir-133b</text></g>
<g id="m85" class="m"><rect x="2588" y="488" width="79" height="19" rx="9.5"/><text x="2627.5" y="501">mmu-mir-133a-2</text></g>
<g id="m86" class="m"><rect x="2588" y="508" width="79" height="19" rx="9.5"/><text x="2627.5" y="521">mmu-mir-133a-1</text></g>
<g id="m87" class="m"><rect x="2588" y="528" width="79" height="19" rx="9.5"/><text x="2627.5" y="541">mmu-let-7b</text></g>
<g id="m88" class="m"><rect x="2725" y="183" width="79" height="19" rx="9.5"/><text x="2764.5" y="196">mmu-mir-195</text></g>
<g id="m89" class="m"><rect x="2725" y="203" width="79" height="19" rx="9.5"/><text x="2764.5" y="216">mmu-mir-15b</text></g>
<g id="m90" class="m"><rect x="2725" y="223" width="79" height="19" rx="9.5"/><text x="2764.5" y="236">mmu-mir-130b</text></g>
<g id="m91" class="m"><rect x="2725" y="243" width="79" height="19" rx="9.5"/><text x="2764.5" y="256">mmu-mir-27b</text></g>
<g id="m92" class="m"><rect x="3048" y="174" width="79" height="19" rx="9.5"/><text x="3087.5" y="187">mmu-mir-23a</text></g>
<g id="m93" class="m"><rect x="3192" y="174" width="79" height="19" rx="9.5"/><text x="3231.5" y="187">mmu-mir-208a</text></g>
<g id="m94" class="m"><rect x="3192" y="194" width="79" height="19" rx="9.5"/><text x="3231.5" y="207">mmu-mir-195</text></g>
<g id="m95" class="m"><rect x="3192" y="214" width="79" height="19" rx="9.5"/><text x="3231.5" y="227">mmu-mir-15b</text></g>
<g id="m96" class="m"><rect x="3192" y="234" width="79" height="19" rx="9.5"/><text x="3231.5" y="247">mmu-mir-30e</text></g>
<g id="m97" class="m"><rect x="3192" y="254" width="79" height="19" rx="9.5"/><text x="3231.5" y="267">mmu-mir-27b</text></g>
<g id="m98" class="m"><rect x="3192" y="274" width="79" height="19" rx="9.5"/><text x="3231.5" y="287">mmu-mir-21</text></g>
<g id="m99" class="m"><rect x="3180" y="314" width="79" height="19" rx="9.5"/><text x="3219.5" y="327">mmu-mir-214</text></g>
<g id="m100" class="m"><rect x="2772" y="319" width="79" height="19" rx="9.5"/><text x="2811.5" y="332">mmu-mir-199a-1</text></g>
<g id="m101" class="m"><rect x="2772" y="339" width="79" height="19" rx="9.5"/><text x="2811.5" y="352">mmu-mir-199a-2</text></g>
<g id="m102" class="m"><rect x="2768" y="391" width="79" height="19" rx="9.5"/><text x="2807.5" y="404">mmu-mir-140</text></g>
<g id="m103" class="m"><rect x="2753" y="512" width="79" height="19" rx="9.5"/><text x="2792.5" y="525">mmu-mir-208a</text></g>
<g id="m104" class="m"><rect x="2753" y="532" width="79" height="19" rx="9.5"/><text x="2792.5" y="545">mmu-mir-195</text></g>
<g id="m105" class="m"><rect x="2753" y="552" width="79" height="19" rx="9.5"/><text x="2792.5" y="565">mmu-mir-15b</text></g>
<g id="m106" class="m"><rect x="3168" y="542" width="79" height="19" rx="9.5"/><text x="3207.5" y="555">mmu-mir-125b-1</text></g>
<g id="m107" class="m"><rect x="3168" y="562" width="79" height="19" rx="9.5"/><text x="3207.5" y="575">mmu-mir-125b-2</text></g>
<g id="m108" class="m"><rect x="3168" y="582" width="79" height="19" rx="9.5"/><text x="3207.5" y="595">mmu-mir-195</text></g>
<g id="m109" class="m"><rect x="3168" y="602" width="79" height="19" rx="9.5"/><text x="3207.5" y="615">mmu-mir-15b</text></g>
</svg>
